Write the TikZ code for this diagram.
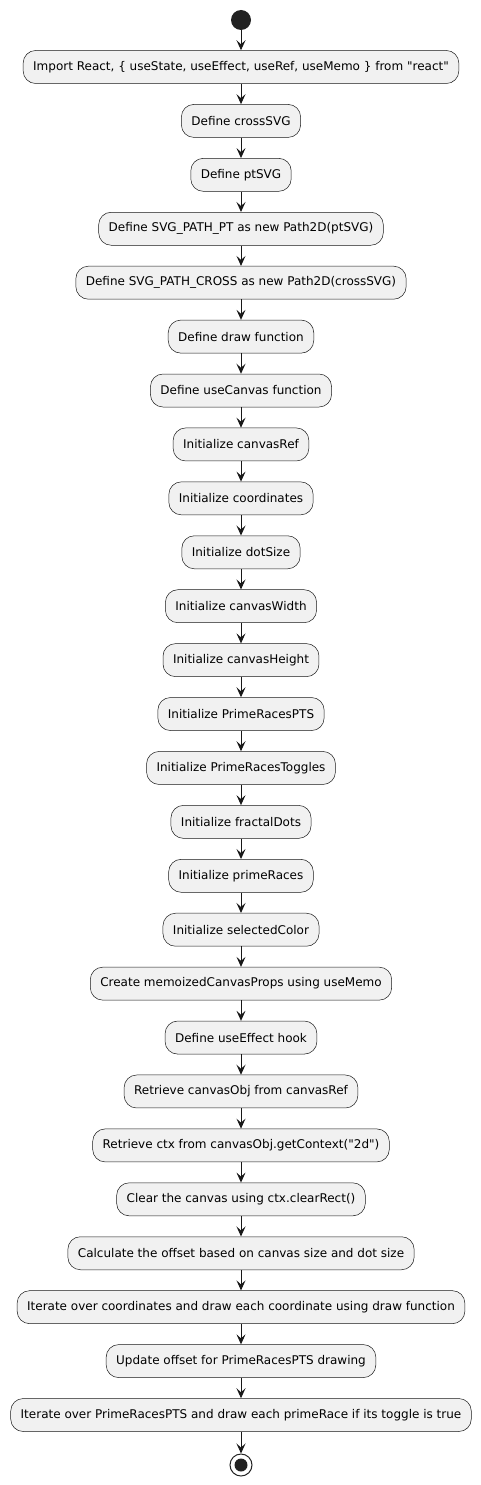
\documentclass[tikz,border=0pt]{standalone}
\usepackage{fontspec}
\newfontfamily\dv{DejaVu Sans}
\usetikzlibrary{arrows.meta}
\definecolor{bd}{HTML}{181818}
\definecolor{bg}{HTML}{F1F1F1}
\definecolor{dk}{HTML}{222222}
\begin{document}
\begin{tikzpicture}[x=1pt,y=-1pt,
  act/.style={draw=bd,fill=bg,line width=0.5pt,rounded corners=12.5pt,minimum height=33pt,inner xsep=10pt,inner ysep=0pt,font=\dv\fontsize{12}{14}\selectfont},
  arr/.style={draw=bd,line width=1pt,-{Stealth[length=10pt,width=9pt,inset=4pt]}}]
\useasboundingbox (0,0) rectangle (481,1485);
\node[circle,fill=dk,inner sep=0pt,minimum size=20pt] (start) at (241,20) {};
\def\s{53.92}
\node[act] (n1) at (241,67) {Import React, \{ useState, useEffect, useRef, useMemo \} from "react"};
\node[act] (n2) at (241,67+1*\s) {Define crossSVG};
\node[act] (n3) at (241,67+2*\s) {Define ptSVG};
\node[act] (n4) at (241,67+3*\s) {Define SVG\_PATH\_PT as new Path2D(ptSVG)};
\node[act] (n5) at (241,67+4*\s) {Define SVG\_PATH\_CROSS as new Path2D(crossSVG)};
\node[act] (n6) at (241,67+5*\s) {Define draw function};
\node[act] (n7) at (241,67+6*\s) {Define useCanvas function};
\node[act] (n8) at (241,67+7*\s) {Initialize canvasRef};
\node[act] (n9) at (241,67+8*\s) {Initialize coordinates};
\node[act] (n10) at (241,67+9*\s) {Initialize dotSize};
\node[act] (n11) at (241,67+10*\s) {Initialize canvasWidth};
\node[act] (n12) at (241,67+11*\s) {Initialize canvasHeight};
\node[act] (n13) at (241,67+12*\s) {Initialize PrimeRacesPTS};
\node[act] (n14) at (241,67+13*\s) {Initialize PrimeRacesToggles};
\node[act] (n15) at (241,67+14*\s) {Initialize fractalDots};
\node[act] (n16) at (241,67+15*\s) {Initialize primeRaces};
\node[act] (n17) at (241,67+16*\s) {Initialize selectedColor};
\node[act] (n18) at (241,67+17*\s) {Create memoizedCanvasProps using useMemo};
\node[act] (n19) at (241,67+18*\s) {Define useEffect hook};
\node[act] (n20) at (241,67+19*\s) {Retrieve canvasObj from canvasRef};
\node[act] (n21) at (241,67+20*\s) {Retrieve ctx from canvasObj.getContext("2d")};
\node[act] (n22) at (241,67+21*\s) {Clear the canvas using ctx.clearRect()};
\node[act] (n23) at (241,67+22*\s) {Calculate the offset based on canvas size and dot size};
\node[act] (n24) at (241,67+23*\s) {Iterate over coordinates and draw each coordinate using draw function};
\node[act] (n25) at (241,67+24*\s) {Update offset for PrimeRacesPTS drawing};
\node[act] (n26) at (241,67+25*\s) {Iterate over PrimeRacesPTS and draw each primeRace if its toggle is true};
\node[circle,draw=dk,line width=1pt,fill=white,inner sep=0pt,minimum size=22pt] (stop) at (241,1465) {};
\fill[dk] (stop.center) circle (6.5pt);
\draw[arr] (start) -- (n1);
\foreach \i in {1,...,25}{
  \pgfmathtruncatemacro\j{\i+1}
  \draw[arr] (n\i) -- (n\j);
}
\draw[arr] (n26) -- (stop);
\end{tikzpicture}
\end{document}
